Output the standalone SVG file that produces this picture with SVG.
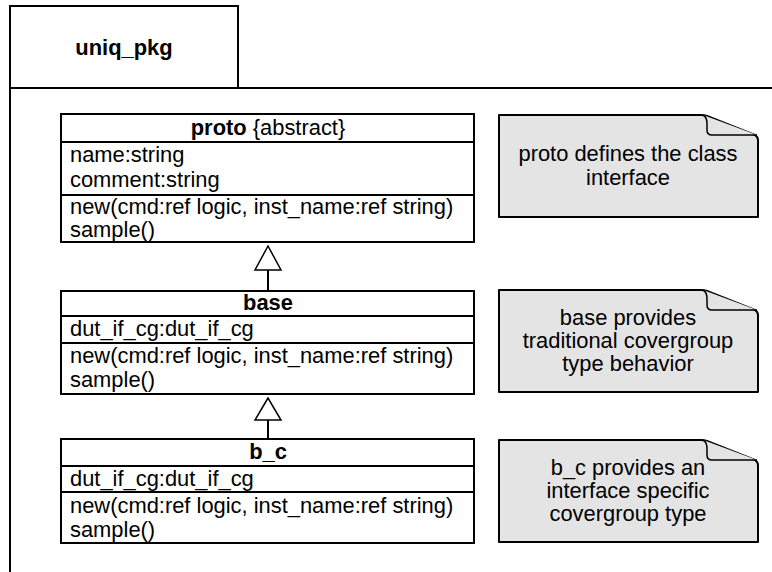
<svg xmlns="http://www.w3.org/2000/svg" width="772" height="572" viewBox="0 0 772 572">
  <style>
    text { font-family: "Liberation Sans", Arial, Helvetica, sans-serif; font-size: 21.9px; fill: #000; }
    .bold { font-weight: bold; }
    .mid { text-anchor: middle; }
    .pkg { fill: none; stroke: #000; stroke-width: 2; }
    .cls { fill: #fff; stroke: #000; stroke-width: 2; }
    .sep { stroke: #000; stroke-width: 2; }
    .note { fill: #e4e4e4; stroke: #000; stroke-width: 2; stroke-linejoin: round; }
    .fold { fill: #e4e4e4; stroke: #000; stroke-width: 1.5; stroke-linejoin: round; }
    .edge { stroke: #000; stroke-width: 2; fill: none; }
    .head { fill: #fff; stroke: #000; stroke-width: 1.5; stroke-linejoin: miter; }
  </style>

  <!-- package frame -->
  <g id="uniq_pkg">
    <rect class="pkg" x="10" y="6" width="228" height="82"/>
    <path class="pkg" d="M10,88 H772 M10,88 V572"/>
    <text class="bold mid" x="124" y="55">uniq_pkg</text>
  </g>

  <!-- class proto -->
  <g id="proto">
    <rect class="cls" x="61" y="114" width="413" height="128"/>
    <line class="sep" x1="61" y1="142" x2="474" y2="142"/>
    <line class="sep" x1="61" y1="195" x2="474" y2="195"/>
    <text class="mid" x="268" y="135"><tspan class="bold">proto</tspan> {abstract}</text>
    <text x="70" y="162">name:string</text>
    <text x="70" y="187">comment:string</text>
    <text x="70" y="214">new(cmd:ref logic, inst_name:ref string)</text>
    <text x="70" y="237">sample()</text>
  </g>

  <!-- class base -->
  <g id="base">
    <rect class="cls" x="61" y="291" width="413" height="103"/>
    <line class="sep" x1="61" y1="316" x2="474" y2="316"/>
    <line class="sep" x1="61" y1="343" x2="474" y2="343"/>
    <text class="bold mid" x="268" y="310">base</text>
    <text x="70" y="336">dut_if_cg:dut_if_cg</text>
    <text x="70" y="363">new(cmd:ref logic, inst_name:ref string)</text>
    <text x="70" y="387">sample()</text>
  </g>

  <!-- class b_c -->
  <g id="b_c">
    <rect class="cls" x="61" y="439" width="413" height="104"/>
    <line class="sep" x1="61" y1="466" x2="474" y2="466"/>
    <line class="sep" x1="61" y1="492" x2="474" y2="492"/>
    <text class="bold mid" x="268" y="459">b_c</text>
    <text x="70" y="486">dut_if_cg:dut_if_cg</text>
    <text x="70" y="513">new(cmd:ref logic, inst_name:ref string)</text>
    <text x="70" y="537">sample()</text>
  </g>

  <!-- notes -->
  <g id="note_proto">
    <path class="note" d="M499,115 H701 Q704,115 707,116 L755,135 Q758,137 758,140 V217 H499 Z"/>
    <path class="fold" d="M703,115 Q707,117 707,124 V130 Q707,135 712,135 H757"/>
    <text class="mid" x="628" y="161">proto defines the class</text>
    <text class="mid" x="628" y="185">interface</text>
  </g>

  <g id="note_base">
    <path class="note" d="M499,290 H701 Q704,290 707,291 L755,310 Q758,312 758,315 V392 H499 Z"/>
    <path class="fold" d="M703,290 Q707,292 707,299 V305 Q707,310 712,310 H757"/>
    <text class="mid" x="628" y="325">base provides</text>
    <text class="mid" x="628" y="348">traditional covergroup</text>
    <text class="mid" x="628" y="371">type behavior</text>
  </g>

  <g id="note_b_c">
    <path class="note" d="M499,440 H701 Q704,440 707,441 L755,460 Q758,462 758,465 V542 H499 Z"/>
    <path class="fold" d="M703,440 Q707,442 707,449 V455 Q707,460 712,460 H757"/>
    <text class="mid" x="628" y="475">b_c provides an</text>
    <text class="mid" x="628" y="498">interface specific</text>
    <text class="mid" x="628" y="521">covergroup type</text>
  </g>

  <!-- generalization connectors -->
  <g id="connectors">
    <line class="edge" x1="268" y1="270" x2="268" y2="291"/>
    <polygon class="head" points="268,246 255,270 281,270"/>
    <line class="edge" x1="268" y1="420" x2="268" y2="439"/>
    <polygon class="head" points="268,398 255,420 281,420"/>
  </g>
</svg>
